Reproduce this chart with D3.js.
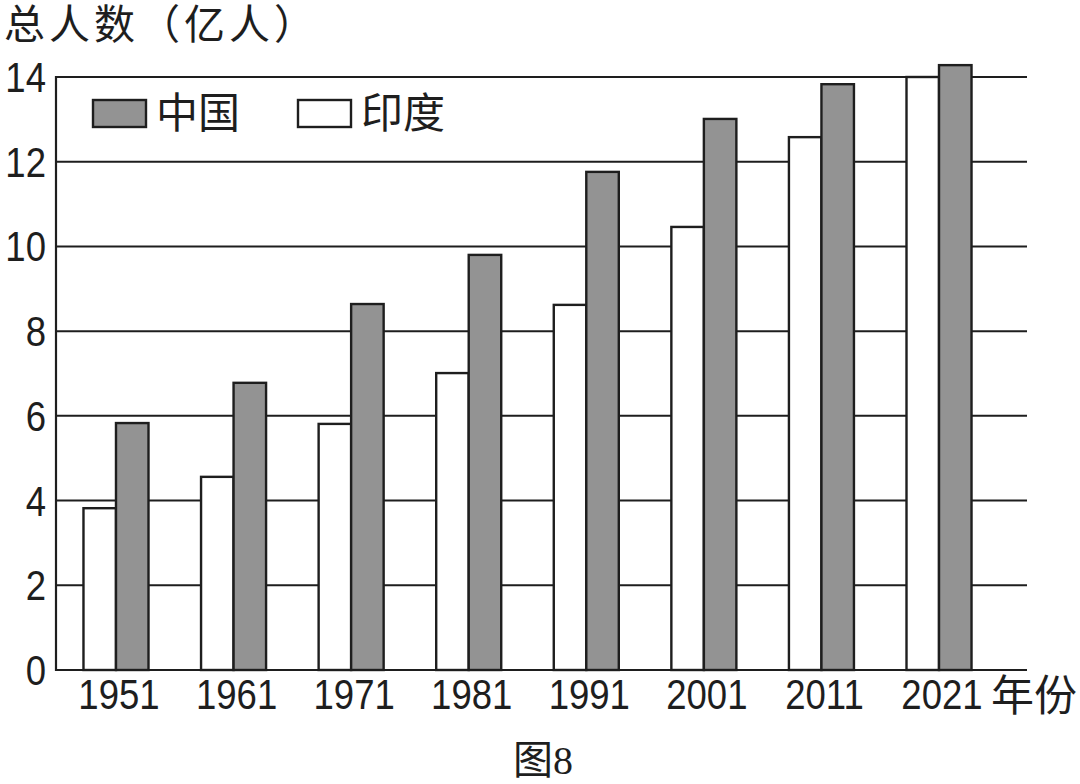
<!DOCTYPE html>
<html><head><meta charset="utf-8">
<script src="https://cdn.jsdelivr.net/npm/d3@7"></script>
<style>
html,body{margin:0;padding:0;background:#fff;}
svg{display:block;}
</style></head>
<body>
<svg id="chart" width="1080" height="784"></svg>
<script>
const years = ["1951","1961","1971","1981","1991","2001","2011","2021"];
const seriesNames = ["印度","中国"];
const india = [3.82, 4.56, 5.81, 7.01, 8.62, 10.46, 12.58, 14.0];
const china = [5.83, 6.78, 8.64, 9.80, 11.76, 13.01, 13.83, 14.28];
const yTicks = [0, 2, 4, 6, 8, 10, 12, 14];
const yTitle = "总人数（亿人）";
const xUnit = "年份";
const caption = "图8";

const svg = d3.select("#chart");
const numFont = "'Liberation Sans',sans-serif";
const cjkFont = "'Noto Sans CJK SC',sans-serif";
const ink = "#1e1e1e";
const numScale = 0.87;

const x = d3.scaleBand().domain(years).range([57.2, 997.8]).padding(0);
const groupW = x.step() * 0.553;
const x1 = d3.scaleBand().domain(seriesNames).range([0, groupW]).padding(0);
const y = d3.scaleLinear().domain([0, 14]).range([670, 77]);
const xLeft = 56, xRight = 1027;

// gridlines
svg.append("g").selectAll("line").data(yTicks).join("line")
  .attr("x1", xLeft).attr("x2", xRight)
  .attr("y1", d => y(d)).attr("y2", d => y(d))
  .attr("stroke", ink).attr("stroke-width", 2);
// y axis line
svg.append("line").attr("x1", xLeft).attr("x2", xLeft)
  .attr("y1", y(0) + 1).attr("y2", y(14) - 1)
  .attr("stroke", ink).attr("stroke-width", 2.2);

const rows = years.map((yr, i) => ({yr, vals: [{s: "印度", v: india[i]}, {s: "中国", v: china[i]}]}));
const fills = {"印度": "#ffffff", "中国": "#939393"};

const g = svg.append("g");
g.selectAll("g.grp").data(rows).join("g").attr("class", "grp")
  .attr("transform", d => `translate(${x(d.yr) + x.bandwidth()/2 - groupW/2},0)`)
  .selectAll("rect").data(d => d.vals).join("rect")
  .attr("x", d => x1(d.s))
  .attr("width", x1.bandwidth())
  .attr("y", d => y(d.v))
  .attr("height", d => y(0) - y(d.v))
  .attr("fill", d => fills[d.s])
  .attr("stroke", ink).attr("stroke-width", 2.4);

// y tick labels
svg.append("g").selectAll("text").data(yTicks).join("text")
  .attr("transform", d => `translate(46,${y(d) + 15}) scale(${numScale},1)`)
  .attr("text-anchor", "end")
  .attr("font-family", numFont).attr("font-size", 42).attr("fill", ink)
  .text(d => d);

// x labels
svg.append("g").selectAll("text").data(years).join("text")
  .attr("transform", d => `translate(${x(d) + x.bandwidth()/2 + 3},709) scale(${numScale},1)`)
  .attr("text-anchor", "middle")
  .attr("font-family", numFont).attr("font-size", 42).attr("fill", ink)
  .text(d => d);

svg.append("text").attr("x", 991).attr("y", 711)
  .attr("font-family", cjkFont).attr("font-size", 43).attr("fill", ink)
  .text(xUnit);

// y title
svg.append("text").attr("x", 4).attr("y", 39)
  .attr("font-family", cjkFont).attr("font-size", 41).attr("letter-spacing", 4).attr("fill", ink)
  .text(yTitle);

// legend
const legendItems = [{s: "中国", sx: 93, tx: 156}, {s: "印度", sx: 298, tx: 361}];
const lg = svg.append("g");
lg.selectAll("rect").data(legendItems).join("rect")
  .attr("x", d => d.sx).attr("y", 100).attr("width", 53).attr("height", 27)
  .attr("fill", d => fills[d.s]).attr("stroke", ink).attr("stroke-width", 2.4);
lg.selectAll("text").data(legendItems).join("text")
  .attr("x", d => d.tx).attr("y", 128)
  .attr("font-family", cjkFont).attr("font-size", 42).attr("fill", ink)
  .text(d => d.s);

// caption
svg.append("text").attr("x", 543).attr("y", 774)
  .attr("text-anchor", "middle")
  .attr("font-family", "'Liberation Serif','Noto Sans CJK SC',serif")
  .attr("font-size", 40).attr("fill", ink)
  .text(caption);
</script>
</body></html>
